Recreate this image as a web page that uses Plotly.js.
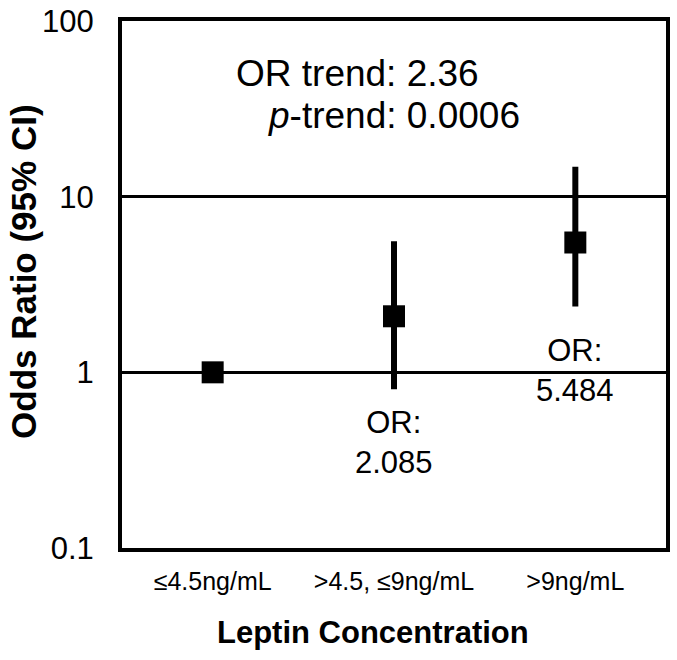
<!DOCTYPE html>
<html>
<head>
<meta charset="utf-8">
<script src="https://cdn.plot.ly/plotly-3.0.1.min.js"></script>
<style>html,body{margin:0;padding:0;background:#fff;}</style>
</head>
<body>
<div id="chart" style="width:677px;height:660px;"></div>
<script>
const categories = ['≤4.5ng/mL', '>4.5, ≤9ng/mL', '>9ng/mL'];
const oddsRatios = [1, 2.085, 5.484];
const ciLower = [1, 0.80, 2.37];
const ciUpper = [1, 5.57, 14.8];
const yTickVals = [0.1, 1, 10, 100];
const yTickText = ['0.1', '1', '10', '100'];
const orTrend = '2.36';
const pTrend = '0.0006';
const xTitle = 'Leptin Concentration';
const yTitle = 'Odds Ratio (95% CI)';

const FONT = 'Liberation Sans, Arial, Helvetica, sans-serif';

const trace = {
  type: 'scatter',
  mode: 'markers',
  x: categories,
  y: oddsRatios,
  marker: {symbol: 'square', size: 22, color: '#000'},
  error_y: {
    type: 'data',
    symmetric: false,
    array: ciUpper.map((u, i) => u - oddsRatios[i]),
    arrayminus: ciLower.map((l, i) => oddsRatios[i] - l),
    thickness: 6,
    width: 0,
    color: '#000'
  },
  hoverinfo: 'skip'
};

const layout = {
  width: 677,
  height: 660,
  margin: {l: 122, r: 11, t: 21, b: 112},
  paper_bgcolor: '#fff',
  plot_bgcolor: '#fff',
  showlegend: false,
  font: {family: FONT, color: '#000'},
  xaxis: {
    type: 'category',
    range: [-0.5, 2.5],
    showline: true, mirror: true, linewidth: 4, linecolor: '#000',
    showgrid: false, ticks: '',
    tickfont: {size: 25, family: FONT, color: '#000'},
    ticklabelstandoff: 8
  },
  yaxis: {
    type: 'log',
    range: [-1, 2],
    tickvals: yTickVals,
    ticktext: yTickText,
    showline: true, mirror: true, linewidth: 4, linecolor: '#000',
    showgrid: true, gridcolor: '#000', gridwidth: 3,
    ticks: '',
    tickfont: {size: 31, family: FONT, color: '#000'},
    ticklabelstandoff: 18
  },
  annotations: [
    {xref: 'paper', yref: 'paper', x: 0.461, y: -0.161, xanchor: 'center', yanchor: 'middle',
     text: '<b>' + xTitle + '</b>', showarrow: false, font: {size: 31, family: FONT, color: '#000'}},
    {xref: 'paper', yref: 'paper', x: -0.18, y: 0.524, xanchor: 'center', yanchor: 'middle', textangle: -90,
     text: '<b>' + yTitle + '</b>', showarrow: false, font: {size: 35, family: FONT, color: '#000'}},
    {xref: 'paper', yref: 'paper', x: 0.206, y: 0.901, xanchor: 'left', yanchor: 'middle',
     text: 'OR trend: ' + orTrend, showarrow: false, font: {size: 37, family: FONT, color: '#000'}},
    {xref: 'paper', yref: 'paper', x: 0.264, y: 0.820, xanchor: 'left', yanchor: 'middle',
     text: '<i>p</i>-trend: ' + pTrend, showarrow: false, font: {size: 37, family: FONT, color: '#000'}},
    {xref: 'x', yref: 'paper', x: categories[1], y: 0.201, xanchor: 'center', yanchor: 'middle',
     text: 'OR:<br>' + oddsRatios[1].toFixed(3), showarrow: false, align: 'center',
     font: {size: 31, family: FONT, color: '#000'}},
    {xref: 'x', yref: 'paper', x: categories[2], y: 0.336, xanchor: 'center', yanchor: 'middle',
     text: 'OR:<br>' + oddsRatios[2].toFixed(3), showarrow: false, align: 'center',
     font: {size: 31, family: FONT, color: '#000'}}
  ]
};

Plotly.newPlot('chart', [trace], layout, {displayModeBar: false, staticPlot: true});
</script>
</body>
</html>
